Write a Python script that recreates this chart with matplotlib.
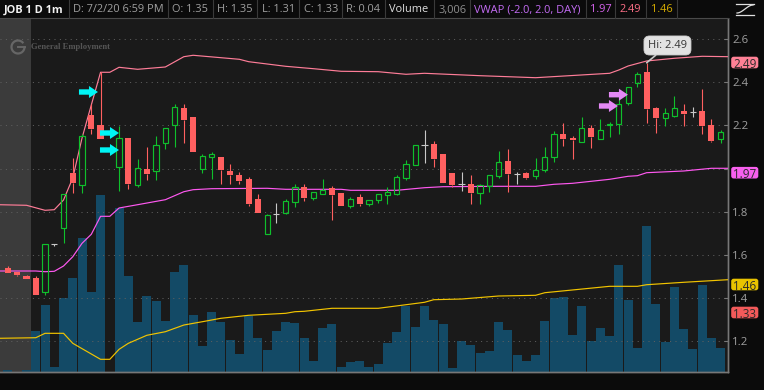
import numpy as np
import matplotlib
matplotlib.use('Agg')
import matplotlib.pyplot as plt
from matplotlib.patches import Rectangle, FancyBboxPatch, Polygon
from matplotlib.transforms import IdentityTransform

plt.rcParams['font.family'] = ['Open Sans', 'DejaVu Sans']

nan = float('nan')
opens = [1.540,1.523,1.504,1.494,1.430,1.651,1.726,1.980,1.925,2.248,2.201,nan,2.009,2.142,1.925,1.997,1.988,2.120,2.201,2.279,
         2.239,1.997,2.052,2.052,1.989,1.970,1.952,1.859,1.699,1.788,1.796,1.847,1.913,1.865,1.884,1.910,1.887,1.828,1.869,1.838,
         1.856,1.879,1.884,1.958,2.018,2.108,2.114,2.068,1.980,1.927,1.929,1.887,1.919,1.966,2.035,1.976,1.980,1.967,1.995,2.055,
         2.160,2.142,2.125,2.187,2.138,2.201,2.208,2.305,2.398,2.446,2.279,2.236,2.245,2.267,2.261,2.267,2.202,2.138]
closes = [1.518,1.507,1.489,1.415,1.650,1.651,1.881,1.933,2.150,2.183,2.137,nan,2.140,1.929,2.001,1.975,2.108,2.187,2.287,2.226,
          2.078,2.057,2.066,1.995,1.970,1.944,1.838,1.794,1.784,1.788,1.849,1.913,1.865,1.890,1.900,1.878,1.827,1.858,1.835,1.853,
          1.881,1.890,1.960,2.021,2.108,2.108,2.044,1.933,1.924,1.927,1.887,1.923,1.969,2.029,1.975,1.976,1.957,1.995,2.052,2.159,
          2.137,2.132,2.187,2.146,2.177,2.205,2.298,2.376,2.437,2.276,2.236,2.256,2.279,2.253,2.261,2.199,2.128,2.168]
highs = [1.547,1.523,1.509,1.503,1.650,1.651,1.881,2.048,2.160,2.299,2.447,nan,2.197,2.142,2.043,2.099,2.151,2.187,2.299,2.299,
         2.239,2.068,2.077,2.052,2.020,1.986,1.960,1.881,1.790,1.839,1.858,1.929,1.927,1.890,1.952,1.918,1.887,1.867,1.881,1.853,
         1.881,1.916,1.969,2.038,2.108,2.177,2.128,2.068,1.980,1.986,1.970,1.929,1.969,2.080,2.089,1.986,1.986,2.048,2.099,2.176,
         2.210,2.151,2.238,2.201,2.228,2.216,2.330,2.376,2.447,2.490,2.287,2.279,2.338,2.299,2.287,2.367,2.228,2.177]
lows = [1.517,1.503,1.489,1.415,1.416,1.643,1.657,1.888,1.888,2.160,2.137,nan,1.898,1.907,1.916,1.947,1.947,2.089,2.099,2.117,
        2.078,1.978,1.950,1.927,1.929,1.927,1.828,1.794,1.699,1.750,1.788,1.821,1.849,1.856,1.882,1.761,1.827,1.819,1.828,1.828,
        1.842,1.838,1.878,1.947,2.018,2.027,2.009,1.933,1.915,1.898,1.838,1.838,1.890,1.958,1.892,1.927,1.950,1.950,1.986,2.032,
        2.105,2.044,2.123,2.097,2.138,2.148,2.160,2.294,2.376,2.210,2.166,2.199,2.238,2.199,2.240,2.159,2.125,2.117]
volumes = [250,0,250,5125,8375,625,9250,11750,16750,10000,22125,0,20500,12000,6250,9500,8875,6375,12500,13375,
           7125,3250,7500,6250,4000,2250,7000,4250,2750,5125,6250,6125,4250,1375,5500,6000,625,1250,1375,625,
           1000,3625,5000,8250,5625,8250,6500,6000,500,3875,3375,2375,2625,6250,5250,2125,1375,2125,6375,9250,
           9375,4625,8250,3875,5500,4500,13375,9000,3000,18250,8500,3750,10625,5375,2875,10875,4250,3006]

upper_idx = [-1,2,4,5,6,7,8,9,10,11,12,14,17,19,20,25,26,30,33,36,40,43,45,51,57,65,66,67,69,72,75,77.8]
upper_val = [1.8328,1.8301,1.8069,1.8097,1.8546,1.9565,2.1417,2.2944,2.4459,2.4459,2.4690,2.4597,2.4704,2.5181,2.5246,2.5060,
             2.4949,2.4736,2.4625,2.4505,2.4486,2.4366,2.4412,2.4301,2.4208,2.4412,2.4565,2.4750,2.4982,2.5107,2.5199,2.5181]
vwap_idx = [-1,3,4,5,6,7,8,9,10,11,12,14,17,19,20,22,28,30,36,37,42,45,47,53,57,59,61,65,67,68,69,73,76,77.8]
vwap_val = [1.5259,1.5259,1.5226,1.5245,1.5490,1.5921,1.6541,1.6958,1.7791,1.7791,1.8176,1.8328,1.8560,1.8930,1.9023,1.9069,
            1.9088,1.9041,1.9041,1.8995,1.8995,1.9115,1.9162,1.9180,1.9180,1.9273,1.9319,1.9504,1.9643,1.9671,1.9810,1.9889,2.0014,2.0014]
lower_idx = [-1,3,4,6,7,10,11,12,13,15,17,19,21,23,26,30,31,32,35,40,43,45,46,49,53,57,58,65,68,69,73,77.8]
lower_val = [1.2143,1.2170,1.2374,1.2374,1.1911,1.1170,1.1170,1.1633,1.1911,1.2282,1.2448,1.2758,1.2911,1.3069,1.3208,1.3300,
             1.3374,1.3393,1.3532,1.3532,1.3698,1.3810,1.3930,1.3962,1.4101,1.4134,1.4254,1.4550,1.4550,1.4624,1.4736,1.4856]

price_ticks = [2.6,2.4,2.2,2.0,1.8,1.6,1.4,1.2]
price_labels = ['2.6','2.4','2.2','','1.8','1.6','1.4','1.2']
time_pos = [2.5,10.4,16.4,23.4,29.5,34.5,39.4,45.5,51.5,56.5,67.6,73.5]
time_labels = ['8:30','8:50','9:00','9:15','9:25','9:30','9:35','9:45','9:55','10:00','10:15','10:21']

W, H = 764, 390
BG = '#1a1a1a'
GREEN, RED, GRAY = '#0fc02c', '#ff6060', '#c8c8c8'
fig = plt.figure(figsize=(W/100, H/100), dpi=100, facecolor='#0b0b0b')
axv = fig.add_axes([0, 1-372/H, 728/W, 354/H], facecolor=BG)
ax = axv.twinx()
ax.set_zorder(axv.get_zorder()+1)
ax.patch.set_visible(False)
xlim = (-0.864, 77.79)
ylim = (1.0583, 2.6972)
ax.set_ylim(ylim)
axv.set_xlim(xlim); ax.set_xlim(xlim)
axv.set_ylim(0, 354*125)
axv.set_yticks([])

x = np.arange(len(opens))
axv.axvspan(xlim[0], 2.5, color='#3b3b3b', lw=0, zorder=0)
axv.bar(x, volumes, width=0.972, color='#134a66', lw=0, zorder=2, antialiased=False)

dot = (0, (1, 4.4))
ax.set_yticks(price_ticks); ax.set_yticklabels(price_labels)
ax.set_xticks(time_pos); ax.set_xticklabels(time_labels, ha='left')
ax.grid(True, color='#606060', lw=0.72, ls=dot, zorder=1)
ax.set_axisbelow(True)
ax.tick_params(axis='y', right=True, left=False, direction='in', length=3, width=0.8, color='#777777',
               labelcolor='#a0a0a0', labelsize=8.2, pad=2.9)
ax.tick_params(axis='x', length=0, labelcolor='#9a9a9a', labelsize=8, pad=3.5)
axv.tick_params(axis='x', length=0, labelbottom=False)
for a in (ax, axv):
    for s in ('top', 'left'):
        a.spines[s].set_visible(False)
    for s in ('right', 'bottom'):
        a.spines[s].set_color('#777777'); a.spines[s].set_linewidth(1)

# bands
ax.plot(upper_idx, upper_val, color='#ff7d98', lw=0.85, zorder=3)
ax.plot(vwap_idx, vwap_val, color='#ff58f0', lw=0.85, zorder=3)
ax.plot(lower_idx, lower_val, color='#f2c400', lw=0.85, zorder=3)

# candles
for i, (o, c, h, l) in enumerate(zip(opens, closes, highs, lows)):
    if np.isnan(o):
        continue
    top, bot = max(o, c), min(o, c)
    if c > o:
        col = GREEN
    elif c < o:
        col = RED
    else:
        col = GRAY
    ax.vlines(i, top, h, color=col, lw=0.8, zorder=4)
    ax.vlines(i, l, bot, color=col, lw=0.8, zorder=4)
    if c > o:
        ax.bar(i, top-bot, bottom=bot, width=0.56, facecolor='none', edgecolor=col, lw=0.85, zorder=5)
    elif c < o:
        ax.bar(i, top-bot, bottom=bot, width=0.66, facecolor=col, edgecolor=col, lw=0, zorder=5)
    else:
        ax.hlines(c, i-0.33, i+0.33, color=col, lw=0.8, zorder=5)

fig.canvas.draw()

# arrows: tip placed through the data scale, shape in screen pixels
def arrow(tip_i, tip_p, length, col):
    tx, ty = ax.transData.transform((tip_i, tip_p))
    shape = [(0, 0), (-9, 6), (-9, 2.7), (-length, 2.7), (-length, -2.7), (-9, -2.7), (-9, -6)]
    fig.add_artist(Polygon([(tx+a, ty+b) for a, b in shape], closed=True, fc=col, ec='none',
                           transform=IdentityTransform(), zorder=15))
for tip_i, tip_p in [(9.72, 2.3546), (11.99, 2.1648), (11.99, 2.0861)]:
    arrow(tip_i, tip_p, 19, '#00f5f5')
for tip_i, tip_p in [(65.9, 2.2898), (66.98, 2.3421)]:
    arrow(tip_i, tip_p, 19, '#e488f5')

# Hi bubble
ax.annotate('Hi: 2.49', xy=(69.0, 2.49), xytext=(71.25, 2.57), ha='center', va='center', fontsize=8,
            color='#333333', zorder=8,
            bbox=dict(boxstyle='round,pad=0.36,rounding_size=0.5', fc='#e2e2e2', ec='#cfcfcf', lw=0.6),
            arrowprops=dict(arrowstyle='-', color='#c8c8c8', lw=1.2, shrinkA=0, shrinkB=0))

# figure-level overlays in pixel coordinates
ov = fig.add_axes([0, 0, 1, 1], facecolor='none', zorder=20)
ov.set_xlim(0, W); ov.set_ylim(H, 0); ov.axis('off')

# price flags
for label, yc, col in [('2.49', 62.5, '#ff8196'), ('1.97', 172.7, '#f860ee'), ('1.46', 284.5, '#e8c200'), ('1.33', 312.5, '#f25a5a')]:
    ov.add_patch(FancyBboxPatch((732, yc-5), 25.5, 10, boxstyle='round,pad=0.8,rounding_size=2.5', fc=col, ec='none'))
    ov.text(744.7, yc, label, ha='center', va='center_baseline', color='#2a2a2a', fontsize=8.4)

# header bar
ov.add_patch(Rectangle((0, 0), W, 18, fc='#0b0b0b', ec='none'))
ov.plot([0, 728], [18, 18], color='#4a4a4a', lw=0.8)
for sx in [69, 168, 213, 257, 299, 342, 385, 434, 470, 586, 615, 646, 677]:
    ov.plot([sx, sx], [0, 18], color='#3a3a3a', lw=0.8)
for tx, s, col, wt in [(4, 'JOB 1 D 1m', '#f2f2f2', 'bold'), (73, 'D: 7/2/20 6:59 PM', '#a0a0a0', 'normal'),
                       (172, 'O: 1.35', '#a0a0a0', 'normal'), (217, 'H: 1.35', '#a0a0a0', 'normal'),
                       (262, 'L: 1.31', '#a0a0a0', 'normal'), (304, 'C: 1.33', '#a0a0a0', 'normal'),
                       (346, 'R: 0.04', '#a0a0a0', 'normal'), (389, 'Volume', '#e0e0e0', 'normal'),
                       (438, '3,006', '#909090', 'normal'), (474, 'VWAP (-2.0, 2.0, DAY)', '#c46cf5', 'normal'),
                       (590, '1.97', '#d864f0', 'normal'), (620, '2.49', '#ff7088', 'normal'), (651, '1.46', '#d8ae00', 'normal')]:
    ov.text(tx, 8.5, s, ha='left', va='center_baseline', color=col, fontsize=7.9, fontweight=wt)

# corner icon
t = np.linspace(0, 1, 30)
ov.plot(737+16*t, 13-8*(3*t**2-2*t**3), color='#e0e0e0', lw=0.9)
ov.plot([736, 754], [15, 15], color='#e0e0e0', lw=0.9)
ov.plot([736, 754], [4, 4], color='#e0e0e0', lw=0.9)

# watermark
ov.text(31, 47, 'General Employment', family='Liberation Serif', fontweight='bold', fontsize=6.2,
        color='#555555', ha='left', va='center')
th = np.linspace(0.25*np.pi, 1.95*np.pi, 40)
ov.plot(18+6.5*np.cos(th), 47-6.5*np.sin(th), color='#666666', lw=1.6)
ov.plot([18, 24.5], [47, 47], color='#666666', lw=1.4)

fig.savefig('out.png', dpi=100, facecolor=fig.get_facecolor())
